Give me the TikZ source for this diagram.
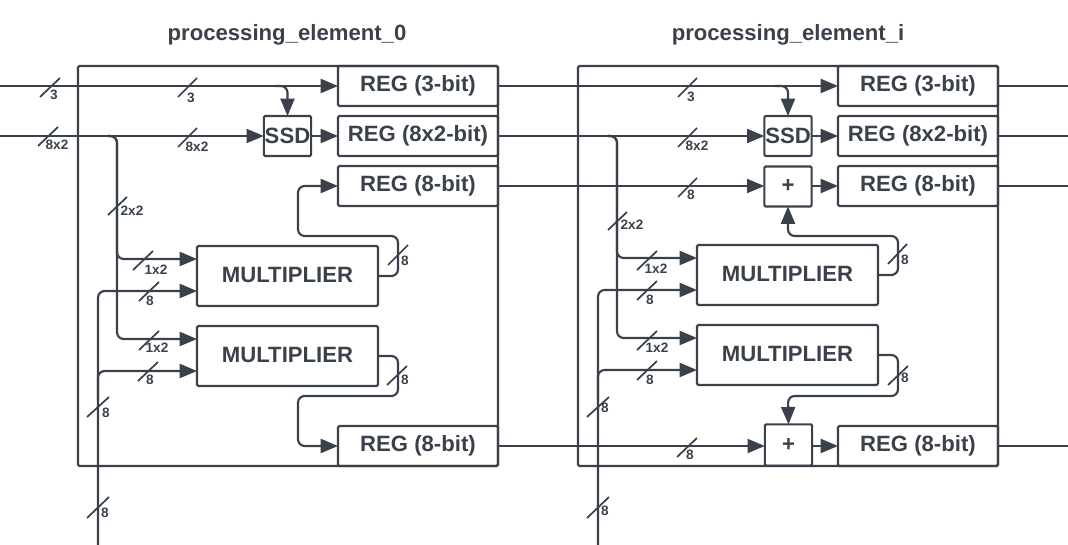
\documentclass[tikz,border=0pt]{standalone}
\usepackage{fontspec}
\setmainfont{Liberation Sans}
\usetikzlibrary{arrows.meta}
\definecolor{inkgray}{HTML}{3A414A}
\tikzset{
  boxtext/.style={font=\fontsize{16.6}{18}\selectfont\bfseries,text=inkgray},
  blockbox/.style={draw=inkgray,line width=1.6pt,boxtext,inner sep=0pt,outer sep=0pt,rounded corners=1pt},
  regbox/.style={blockbox,minimum width=120pt,minimum height=30pt},
  smallbox/.style={blockbox,minimum width=35.5pt,minimum height=30pt},
  multbox/.style={blockbox,minimum width=135.75pt,minimum height=45pt,text height=11.9pt,text depth=2pt},
  pebox/.style={blockbox,minimum width=315pt,minimum height=300pt},
  titletext/.style={boxtext},
  wire/.style={draw=inkgray,line width=1.6pt,rounded corners=5pt,-{Triangle[length=13pt,width=10.5pt]}},
  plainwire/.style={draw=inkgray,line width=1.6pt,rounded corners=5pt},
  busmark/.style={draw=inkgray,line width=1.3pt},
  buslabel/.style={font=\fontsize{10.2}{11}\selectfont\bfseries,text=inkgray,inner sep=0pt}
}
\begin{document}
\begin{tikzpicture}[x=0.75pt,y=-0.75pt]
  \useasboundingbox (0,0) rectangle (1068,545);
  % Element 0
  \begin{scope}
    \node[titletext] (title0) at (287,35) {processing\_element\_0};
    % Frame
    \node[pebox] (pe0) at (288,266) {};
    % Registers
    \node[regbox] (regthree0) at (418,86) {REG (3-bit)};
    \node[regbox] (regpair0) at (418,136) {REG (8x2-bit)};
    \node[regbox] (regupper0) at (418,186) {REG (8-bit)};
    \node[regbox] (reglower0) at (418,446) {REG (8-bit)};
    % Blocks
    \node[smallbox] (ssd0) at (287.5,136) {SSD};
    \node[multbox] (multa0) at (287.5,276) {MULTIPLIER};
    \node[multbox] (multb0) at (287.5,356) {MULTIPLIER};
    % Free ends and taps
    \coordinate (inthree0) at (0,86);
    \coordinate (inpair0) at (0,136);
    \coordinate (incoef0) at (98,545);
    \coordinate (tapthree0) at (275,86);
    \coordinate (tappair0) at (108,136);
    \coordinate (tapcoef0) at (98,400);
    % Inputs
    \draw[wire] (inthree0) -- (regthree0.west);
    \draw[wire] (tapthree0) -| (ssd0.north);
    \draw[wire] (inpair0) -- (ssd0.west);
    \draw[wire] (ssd0.east) -- (regpair0.west);
    \draw[wire] (tappair0) -| (117,259) -- (multa0.west |- 0,259);
    \draw[wire] (tappair0) -| (117,339) -- (multb0.west |- 0,339);
    \draw[wire] (incoef0) |- (multa0.west |- 0,291);
    \draw[wire] (tapcoef0) |- (multb0.west |- 0,371);
    % Multiplier outputs
    \draw[wire] (multa0.east) -- (398,276) |- (298,236) |- (regupper0.west);
    \draw[wire] (multb0.east) -- (398,356) |- (298,396) |- (reglower0.west);
    % Bus widths
    \draw[busmark] (40,97) -- (60,78);
    \node[buslabel] (wa0) at (54,95) {3};
    \draw[busmark] (178,97) -- (197,78);
    \node[buslabel] (wb0) at (191,98) {3};
    \draw[busmark] (38,146) -- (58,127);
    \node[buslabel] (wc0) at (57,145) {8x2};
    \draw[busmark] (178,147) -- (197,128);
    \node[buslabel] (wd0) at (197,147) {8x2};
    \draw[busmark] (108,215) -- (127,197);
    \node[buslabel] (we0) at (132,211) {2x2};
    \draw[busmark] (133,270) -- (153,251);
    \node[buslabel] (wf0) at (156,270) {1x2};
    \draw[busmark] (139,301) -- (159,282);
    \node[buslabel] (wg0) at (150,301) {8};
    \draw[busmark] (139,350) -- (159,331);
    \node[buslabel] (wh0) at (157,348) {1x2};
    \draw[busmark] (138,381) -- (158,362);
    \node[buslabel] (wi0) at (150,380) {8};
    \draw[busmark] (87,417) -- (109,397);
    \node[buslabel] (wj0) at (106,413) {8};
    \draw[busmark] (87,518) -- (109,497);
    \node[buslabel] (wk0) at (105,513) {8};
    \draw[busmark] (388,265) -- (408,245);
    \node[buslabel] (wl0) at (405,261) {8};
    \draw[busmark] (387,385) -- (407,366);
    \node[buslabel] (wm0) at (405,380) {8};
  \end{scope}
  % Element i
  \begin{scope}
    \node[titletext] (titlei) at (788,35) {processing\_element\_i};
    % Frame
    \node[pebox] (pei) at (788,266) {};
    % Registers
    \node[regbox] (regthreei) at (918,86) {REG (3-bit)};
    \node[regbox] (regpairi) at (918,136) {REG (8x2-bit)};
    \node[regbox] (regupperi) at (918,186) {REG (8-bit)};
    \node[regbox] (regloweri) at (918,446) {REG (8-bit)};
    % Blocks
    \node[smallbox] (ssdi) at (788,136) {SSD};
    \node[smallbox] (addupperi) at (788,186.5) {+};
    \node[smallbox,minimum height=31pt] (addloweri) at (788.5,445) {+};
    \node[multbox] (multai) at (787.5,275) {MULTIPLIER};
    \node[multbox] (multbi) at (787.5,355) {MULTIPLIER};
    % Free ends and taps
    \coordinate (outthreei) at (1068,86);
    \coordinate (outpairi) at (1068,136);
    \coordinate (outupperi) at (1068,186);
    \coordinate (outloweri) at (1068,446);
    \coordinate (incoefi) at (598,545);
    \coordinate (tapthreei) at (775,86);
    \coordinate (tappairi) at (608,136);
    \coordinate (tapcoefi) at (598,400);
    % Links from element 0
    \draw[wire] (regthree0.east) -- (regthreei.west);
    \draw[wire] (regpair0.east) -- (ssdi.west);
    \draw[wire] (regupper0.east) -- (addupperi.west |- regupper0.east);
    \draw[wire] (reglower0.east) -- (addloweri.west |- reglower0.east);
    % Inputs
    \draw[wire] (tapthreei) -| (ssdi.north);
    \draw[wire] (ssdi.east) -- (regpairi.west);
    \draw[wire] (addupperi.east |- regupperi.west) -- (regupperi.west);
    \draw[wire] (addloweri.east |- regloweri.west) -- (regloweri.west);
    \draw[wire] (tappairi) -| (617,258) -- (multai.west |- 0,258);
    \draw[wire] (tappairi) -| (617,338) -- (multbi.west |- 0,338);
    \draw[wire] (incoefi) |- (multai.west |- 0,290);
    \draw[wire] (tapcoefi) |- (multbi.west |- 0,370);
    % Multiplier outputs
    \draw[wire] (multai.east) -- (898,275) |- (788,236) -- (addupperi.south);
    \draw[wire] (multbi.east) -- (898,355) |- (788,396) -- (addloweri.north);
    % Outputs
    \draw[plainwire] (regthreei.east) -- (outthreei);
    \draw[plainwire] (regpairi.east) -- (outpairi);
    \draw[plainwire] (regupperi.east) -- (outupperi);
    \draw[plainwire] (regloweri.east) -- (outloweri);
    % Bus widths
    \draw[busmark] (678,97) -- (697,78);
    \node[buslabel] (wai) at (691,97) {3};
    \draw[busmark] (678,147) -- (697,128);
    \node[buslabel] (wbi) at (697,146) {8x2};
    \draw[busmark] (678,197) -- (697,178);
    \node[buslabel] (wci) at (691,195) {8};
    \draw[busmark] (677,457) -- (697,438);
    \node[buslabel] (wdi) at (690,455) {8};
    \draw[busmark] (608,230) -- (627,212);
    \node[buslabel] (wei) at (632,225) {2x2};
    \draw[busmark] (637,270) -- (657,251);
    \node[buslabel] (wfi) at (656,269) {1x2};
    \draw[busmark] (637,300) -- (657,281);
    \node[buslabel] (wgi) at (650,300) {8};
    \draw[busmark] (637,350) -- (657,331);
    \node[buslabel] (whi) at (657,348) {1x2};
    \draw[busmark] (637,380) -- (657,361);
    \node[buslabel] (wii) at (650,380) {8};
    \draw[busmark] (587,417) -- (609,397);
    \node[buslabel] (wji) at (605,408) {8};
    \draw[busmark] (587,518) -- (609,497);
    \node[buslabel] (wki) at (605,511) {8};
    \draw[busmark] (888,264) -- (907,244);
    \node[buslabel] (wli) at (905,260) {8};
    \draw[busmark] (888,385) -- (908,366);
    \node[buslabel] (wmi) at (905,378) {8};
  \end{scope}
\end{tikzpicture}
\end{document}
